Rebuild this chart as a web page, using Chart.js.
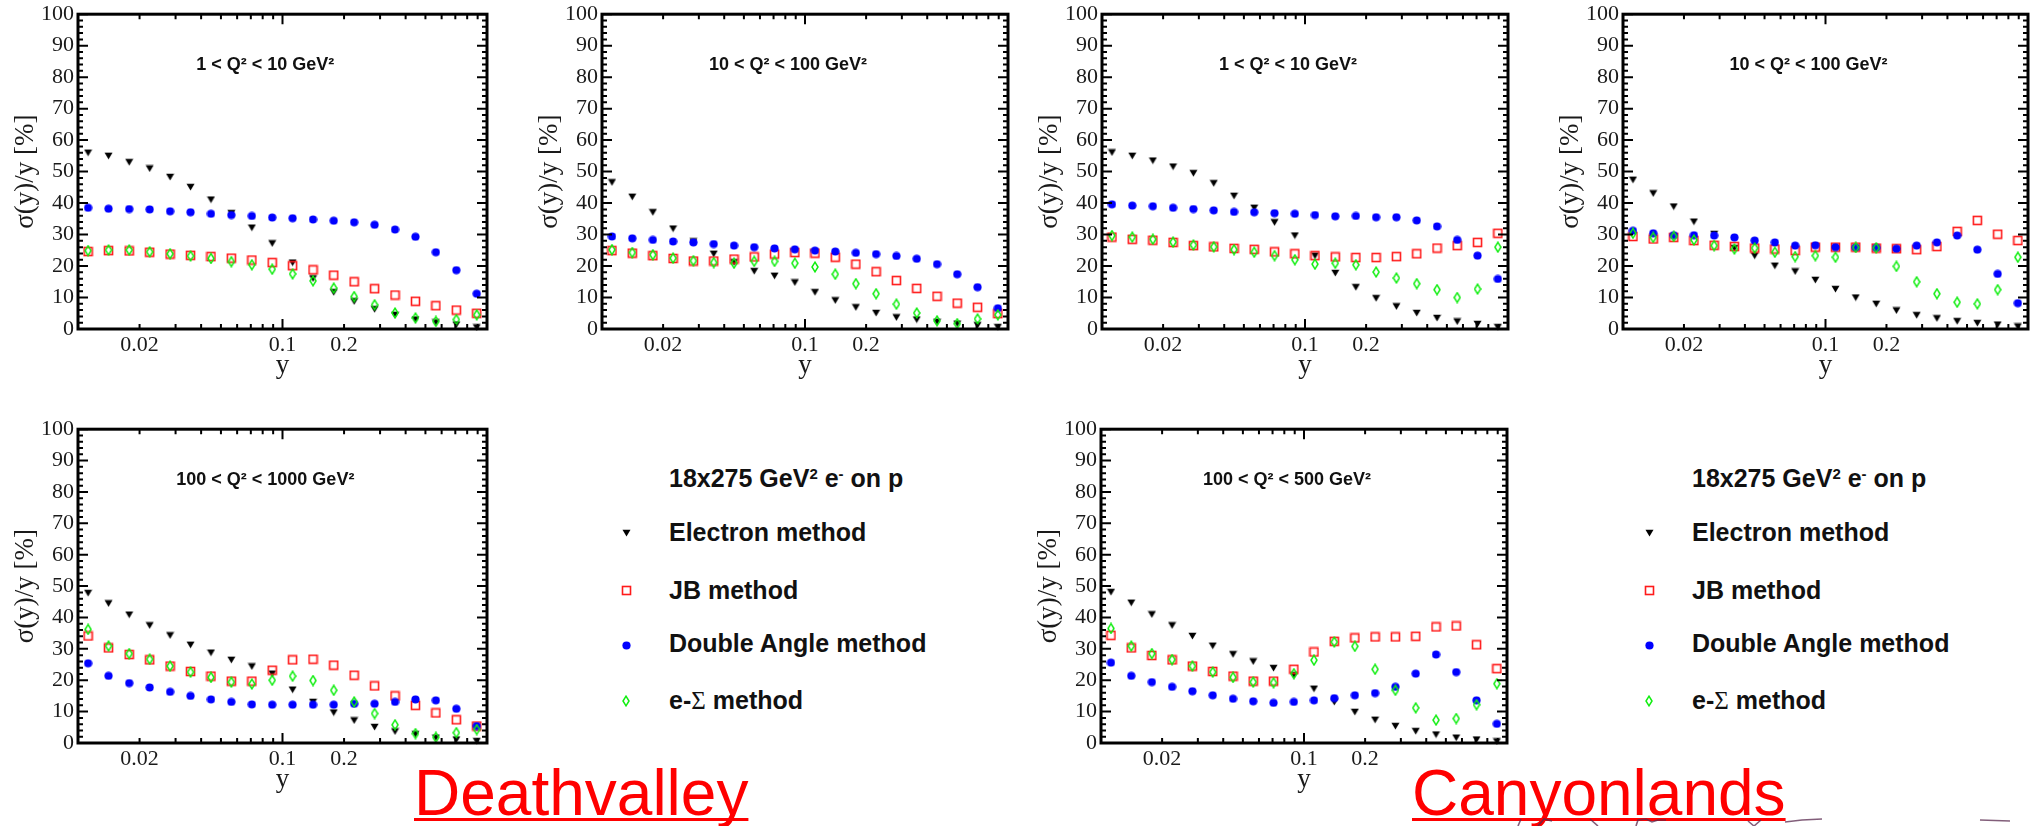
<!DOCTYPE html>
<html lang="en">
<head>
<meta charset="utf-8">
<title>σ(y)/y resolution — Deathvalley and Canyonlands</title>
<script src="https://cdn.jsdelivr.net/npm/chart.js@4.4.1/dist/chart.umd.min.js"></script>
<style>
  html, body { margin: 0; padding: 0; background: #fff; }
  body { position: relative; width: 2041px; height: 826px; overflow: hidden; }
  .panel { position: absolute; }
  .legend-title, .legend-entry {
    position: absolute; white-space: nowrap;
    font-family: "Liberation Sans", Arial, sans-serif; font-weight: bold;
    font-size: 25px; line-height: 25px; color: #111;
  }
  .legend-title sup { font-size: 15px; line-height: 0; vertical-align: baseline; position: relative; top: -0.55em; }
  .sigma { font-family: "Liberation Serif", "Times New Roman", serif; font-weight: normal; }
  .legend-marker { position: absolute; }
  .detector {
    position: absolute; white-space: nowrap;
    font-family: "Liberation Sans", Arial, sans-serif; font-size: 64px; line-height: 64px;
    color: #ff0000; text-decoration: underline; text-decoration-thickness: 3px;
    text-underline-offset: 3px; text-decoration-skip-ink: none;
  }
  #edge { position: absolute; left: 1480px; top: 810px; }
</style>
</head>
<body>

<div class="legend-title" style="left:669px; top:466px">18x275 GeV<sup>2</sup> e<sup>-</sup> on p</div>
<div class="legend-entry" style="left:669px; top:520px">Electron method</div>
<div class="legend-entry" style="left:669px; top:578px">JB method</div>
<div class="legend-entry" style="left:669px; top:631px">Double Angle method</div>
<div class="legend-entry" style="left:669px; top:688px">e-<span class="sigma">Σ</span> method</div>

<div class="legend-title" style="left:1692px; top:466px">18x275 GeV<sup>2</sup> e<sup>-</sup> on p</div>
<div class="legend-entry" style="left:1692px; top:520px">Electron method</div>
<div class="legend-entry" style="left:1692px; top:578px">JB method</div>
<div class="legend-entry" style="left:1692px; top:631px">Double Angle method</div>
<div class="legend-entry" style="left:1692px; top:688px">e-<span class="sigma">Σ</span> method</div>

<div class="detector" style="left:414px; top:761px">Deathvalley</div>
<div class="detector" style="left:1412px; top:761px">Canyonlands</div>

<canvas id="edge" width="561" height="16"></canvas>

<script>
// ---- y bin centres (10 bins per decade) ----
const yBins = [0.0112, 0.0141, 0.0178, 0.0224, 0.0282, 0.0355, 0.0447, 0.0562, 0.0708, 0.0891,
               0.112, 0.141, 0.178, 0.224, 0.282, 0.355, 0.447, 0.562, 0.708, 0.891];

// ---- axis ticks and labels ----
const xTickValues = [0.01, 0.02, 0.03, 0.04, 0.05, 0.06, 0.07, 0.08, 0.09,
                     0.1, 0.2, 0.3, 0.4, 0.5, 0.6, 0.7, 0.8, 0.9, 1];
const xMajorTicks = [0.01, 0.1, 1];
const xTickLabels = [0.02, 0.1, 0.2];
const yTickValues = [0, 10, 20, 30, 40, 50, 60, 70, 80, 90, 100];
const yMinorStep = 2;

const seriesNames = ['Electron method', 'JB method', 'Double Angle method', 'e-Σ method'];

// ---- Deathvalley, σ(y)/y in % ----
const dvQ2_1_10_electron = [56.0, 55.0, 53.0, 51.0, 48.3, 45.1, 41.1, 36.8, 32.2, 27.2, 21.1, 16.1, 11.7, 8.8, 6.3, 4.5, 3.0, 2.1, 1.4, 0.5];
const dvQ2_1_10_jb       = [24.6, 24.9, 24.8, 24.4, 23.8, 23.4, 23.0, 22.5, 21.9, 21.1, 20.1, 18.8, 17.1, 15.0, 12.8, 10.8, 8.8, 7.4, 6.0, 5.0];
const dvQ2_1_10_da       = [38.5, 38.2, 38.1, 38.0, 37.4, 37.1, 36.6, 36.2, 35.9, 35.4, 35.2, 34.8, 34.4, 33.9, 33.1, 31.6, 29.3, 24.4, 18.7, 11.2];
const dvQ2_1_10_esigma   = [24.9, 25.1, 25.1, 24.5, 23.9, 23.2, 22.4, 21.4, 20.4, 19.0, 17.5, 15.3, 13.0, 10.3, 7.7, 5.1, 3.5, 2.4, 3.0, 4.5];

const dvQ2_10_100_electron = [46.6, 42.0, 37.1, 31.9, 27.8, 23.9, 21.2, 18.4, 16.9, 14.8, 11.7, 9.1, 6.9, 5.1, 3.7, 3.0, 2.3, 1.7, 1.2, 0.6];
const dvQ2_10_100_jb       = [24.9, 24.1, 23.3, 22.4, 21.6, 21.6, 22.2, 22.9, 23.8, 24.3, 24.1, 22.8, 20.6, 18.2, 15.4, 12.9, 10.4, 8.2, 6.9, 4.9];
const dvQ2_10_100_da       = [29.4, 28.8, 28.3, 27.8, 27.5, 27.0, 26.5, 26.0, 25.6, 25.3, 24.9, 24.6, 24.2, 23.8, 23.2, 22.3, 20.6, 17.4, 13.3, 6.6];
const dvQ2_10_100_esigma   = [25.2, 24.3, 23.6, 22.5, 21.7, 21.1, 20.9, 21.5, 21.5, 20.9, 19.7, 17.4, 14.4, 11.2, 7.9, 5.1, 2.6, 1.7, 3.2, 4.5];

const dvQ2_100_1000_electron = [47.8, 44.5, 40.9, 37.5, 34.3, 31.3, 28.8, 26.5, 24.4, 22.1, 17.0, 13.1, 9.7, 7.2, 5.1, 3.7, 2.8, 1.7, 1.1, 0.6];
const dvQ2_100_1000_jb       = [34.1, 30.3, 28.2, 26.5, 24.5, 22.8, 21.3, 19.7, 19.7, 23.2, 26.5, 26.7, 24.8, 21.6, 18.2, 15.0, 12.0, 9.6, 7.4, 5.4];
const dvQ2_100_1000_da       = [25.4, 21.4, 19.1, 17.7, 16.3, 15.0, 13.9, 13.1, 12.3, 12.2, 12.2, 12.2, 12.2, 12.5, 12.5, 13.1, 13.9, 13.6, 10.9, 5.4];
const dvQ2_100_1000_esigma   = [36.2, 30.9, 28.5, 26.7, 24.5, 22.6, 20.9, 19.4, 18.8, 20.0, 21.3, 19.9, 16.8, 13.1, 9.4, 5.8, 3.0, 1.8, 3.3, 4.3];

// ---- Canyonlands, σ(y)/y in % ----
const clQ2_1_10_electron = [56.1, 55.0, 53.5, 51.6, 49.5, 46.3, 42.3, 38.5, 33.9, 29.7, 23.3, 17.8, 13.3, 9.8, 7.2, 5.1, 3.5, 2.4, 1.6, 0.6];
const clQ2_1_10_jb       = [29.2, 28.5, 28.2, 27.5, 26.5, 26.1, 25.6, 25.3, 24.5, 23.9, 23.3, 22.9, 22.7, 22.7, 23.0, 23.9, 25.7, 26.5, 27.5, 30.4];
const clQ2_1_10_da       = [39.6, 39.2, 39.0, 38.5, 38.1, 37.7, 37.2, 37.1, 36.8, 36.6, 36.2, 35.8, 35.9, 35.5, 35.5, 34.5, 32.6, 28.3, 23.3, 15.9];
const clQ2_1_10_esigma   = [29.7, 29.2, 28.5, 27.6, 26.7, 26.1, 25.2, 24.4, 23.3, 22.0, 20.6, 20.9, 20.4, 18.1, 16.2, 14.4, 12.5, 10.0, 12.7, 26.0];

const clQ2_10_100_electron = [47.4, 43.1, 38.9, 34.1, 30.2, 25.7, 23.3, 20.1, 18.3, 15.6, 12.7, 10.0, 8.0, 5.9, 4.4, 3.4, 2.5, 1.9, 1.4, 0.8];
const clQ2_10_100_jb       = [29.4, 28.6, 29.1, 28.1, 26.6, 26.2, 25.7, 25.4, 24.9, 26.0, 26.0, 26.0, 25.7, 25.5, 25.2, 26.2, 31.0, 34.5, 30.1, 28.1];
const clQ2_10_100_da       = [31.2, 30.4, 29.8, 29.8, 29.7, 29.1, 28.1, 27.5, 26.5, 26.6, 26.0, 25.9, 25.8, 25.5, 26.5, 27.5, 29.7, 25.2, 17.5, 8.2];
const clQ2_10_100_esigma   = [30.4, 29.1, 29.4, 28.3, 26.5, 25.4, 25.7, 24.4, 23.0, 23.3, 22.8, 25.9, 25.8, 19.9, 15.0, 11.2, 8.5, 8.0, 12.5, 22.8];

const clQ2_100_500_electron = [48.1, 44.7, 41.0, 37.5, 34.1, 31.0, 28.3, 26.0, 23.9, 21.6, 17.3, 13.1, 9.9, 7.4, 5.4, 3.8, 2.7, 1.7, 1.1, 0.5];
const clQ2_100_500_jb       = [34.3, 30.3, 27.9, 26.5, 24.5, 22.8, 21.3, 19.7, 19.7, 23.5, 29.0, 32.4, 33.5, 33.8, 33.8, 34.0, 37.0, 37.3, 31.3, 23.7];
const clQ2_100_500_da       = [25.6, 21.4, 19.4, 17.9, 16.5, 15.2, 14.1, 13.3, 12.8, 13.1, 13.6, 14.3, 15.2, 15.9, 17.9, 22.1, 28.2, 22.6, 13.6, 6.1];
const clQ2_100_500_esigma   = [36.5, 30.9, 28.5, 26.6, 24.5, 22.6, 20.9, 19.4, 19.2, 22.1, 26.4, 32.2, 30.8, 23.5, 16.8, 11.2, 7.3, 7.8, 12.2, 18.9];

// ---- marker glyphs (ROOT-like: full triangle down, open square, full circle, open diamond) ----
function markerCanvas(kind) {
  const c = document.createElement('canvas');
  const g = c.getContext('2d');
  if (kind === 'triangleDown') {
    c.width = 9; c.height = 8;
    g.fillStyle = '#000';
    g.beginPath(); g.moveTo(0.5, 0.8); g.lineTo(8.5, 0.8); g.lineTo(4.5, 7.6); g.closePath(); g.fill();
  } else if (kind === 'openSquare') {
    c.width = 11; c.height = 11;
    g.strokeStyle = '#ff1a1a'; g.lineWidth = 1.6;
    g.strokeRect(1.5, 1.5, 8, 8);
  } else if (kind === 'fullCircle') {
    c.width = 9; c.height = 9;
    g.fillStyle = '#0000ff';
    g.beginPath(); g.arc(4.5, 4.5, 4.1, 0, Math.PI * 2); g.fill();
  } else if (kind === 'openDiamond') {
    c.width = 8; c.height = 12;
    g.strokeStyle = '#10ee10'; g.lineWidth = 1.5;
    g.beginPath(); g.moveTo(4, 1.2); g.lineTo(7, 6); g.lineTo(4, 10.8); g.lineTo(1, 6); g.closePath(); g.stroke();
  }
  return c;
}
const markerKinds = ['triangleDown', 'openSquare', 'fullCircle', 'openDiamond'];
const markers = markerKinds.map(markerCanvas);

// ---- frame, inward ticks on all four sides, and the Q² range label ----
const panelFrame = {
  id: 'panelFrame',
  afterDatasetsDraw(chart, args, opts) {
    const { ctx, chartArea: a, scales: { x, y } } = chart;
    ctx.save();
    ctx.strokeStyle = '#000';
    ctx.lineWidth = 2;
    ctx.beginPath();
    xTickValues.forEach(v => {
      const px = x.getPixelForValue(v);
      const len = xMajorTicks.includes(v) ? 10 : 5;
      ctx.moveTo(px, a.bottom); ctx.lineTo(px, a.bottom - len);
      ctx.moveTo(px, a.top); ctx.lineTo(px, a.top + len);
    });
    for (let v = y.min; v <= y.max; v += yMinorStep) {
      const py = y.getPixelForValue(v);
      const len = yTickValues.includes(v) ? 10 : 5;
      ctx.moveTo(a.left, py); ctx.lineTo(a.left + len, py);
      ctx.moveTo(a.right, py); ctx.lineTo(a.right - len, py);
    }
    ctx.stroke();
    ctx.lineWidth = 3;
    ctx.strokeRect(a.left, a.top, a.width, a.height);
    ctx.fillStyle = '#111';
    ctx.font = 'bold 18px "Liberation Sans", Arial, sans-serif';
    ctx.textAlign = 'center';
    ctx.textBaseline = 'alphabetic';
    ctx.fillText(opts.label, a.left + a.width * 0.458, a.top + 56);
    ctx.restore();
  }
};

const panels = [
  { label: '1 < Q² < 10 GeV²',     box: { left: 78,   top: 13,  right: 487,  bottom: 329 },
    series: [dvQ2_1_10_electron, dvQ2_1_10_jb, dvQ2_1_10_da, dvQ2_1_10_esigma] },
  { label: '10 < Q² < 100 GeV²',   box: { left: 602,  top: 13,  right: 1008, bottom: 329 },
    series: [dvQ2_10_100_electron, dvQ2_10_100_jb, dvQ2_10_100_da, dvQ2_10_100_esigma] },
  { label: '1 < Q² < 10 GeV²',     box: { left: 1102, top: 13,  right: 1508, bottom: 329 },
    series: [clQ2_1_10_electron, clQ2_1_10_jb, clQ2_1_10_da, clQ2_1_10_esigma] },
  { label: '10 < Q² < 100 GeV²',   box: { left: 1623, top: 13,  right: 2028, bottom: 329 },
    series: [clQ2_10_100_electron, clQ2_10_100_jb, clQ2_10_100_da, clQ2_10_100_esigma] },
  { label: '100 < Q² < 1000 GeV²', box: { left: 78,   top: 428, right: 487,  bottom: 743 },
    series: [dvQ2_100_1000_electron, dvQ2_100_1000_jb, dvQ2_100_1000_da, dvQ2_100_1000_esigma] },
  { label: '100 < Q² < 500 GeV²',  box: { left: 1101, top: 428, right: 1507, bottom: 743 },
    series: [clQ2_100_500_electron, clQ2_100_500_jb, clQ2_100_500_da, clQ2_100_500_esigma] }
];

const axisFont = { family: '"Liberation Serif", "Times New Roman", serif', size: 22, lineHeight: 1.2 };
const titleFont = { family: '"Liberation Serif", "Times New Roman", serif', size: 27, lineHeight: 1 };
const textColor = '#1a1a1a';

function makePanel(p) {
  const pad = { left: 78, top: 16, right: 12, bottom: 58 };
  const b = p.box;
  const w = b.right - b.left + pad.left + pad.right;
  const h = b.bottom - b.top + pad.top + pad.bottom;
  const cv = document.createElement('canvas');
  cv.className = 'panel';
  cv.width = w; cv.height = h;
  cv.style.width = w + 'px'; cv.style.height = h + 'px';
  cv.style.left = (b.left - pad.left) + 'px';
  cv.style.top = (b.top - pad.top) + 'px';
  document.body.appendChild(cv);

  new Chart(cv, {
    type: 'scatter',
    data: {
      datasets: p.series.map((vals, i) => ({
        label: seriesNames[i],
        data: yBins.map((yb, j) => ({ x: yb, y: vals[j] })),
        pointStyle: markers[i],
        pointRadius: 5,
        order: 4 - i,
        clip: false
      }))
    },
    options: {
      responsive: false,
      animation: false,
      events: [],
      layout: { autoPadding: false, padding: { left: 0, top: pad.top, right: pad.right, bottom: 0 } },
      plugins: {
        legend: { display: false },
        tooltip: { enabled: false },
        panelFrame: { label: p.label }
      },
      scales: {
        x: {
          type: 'logarithmic', position: 'bottom', min: 0.01, max: 1,
          afterBuildTicks: s => { s.ticks = xTickValues.map(v => ({ value: v })); },
          afterFit: s => { s.height = pad.bottom; },
          grid: { display: false, drawTicks: false },
          border: { display: false },
          ticks: {
            autoSkip: false, maxRotation: 0, minRotation: 0, padding: 3,
            color: textColor, font: axisFont,
            callback: v => xTickLabels.some(t => Math.abs(t - v) < 1e-9) ? String(v) : ''
          },
          title: { display: true, text: 'y', color: textColor, font: titleFont, padding: { top: 0, bottom: 8 } }
        },
        y: {
          type: 'linear', position: 'left', min: 0, max: 100,
          afterBuildTicks: s => { s.ticks = yTickValues.map(v => ({ value: v })); },
          afterFit: s => { s.width = pad.left; },
          grid: { display: false, drawTicks: false },
          border: { display: false },
          ticks: { padding: 4, color: textColor, font: axisFont },
          title: { display: true, text: 'σ(y)/y [%]', color: textColor, font: titleFont, padding: { top: 12, bottom: 0 } }
        }
      }
    },
    plugins: [panelFrame]
  });
}
panels.forEach(makePanel);

// ---- legend markers ----
const legendMarkerRows = [533, 590, 645, 701];
const legendMarkerColumns = [626, 1649];
legendMarkerColumns.forEach(cx => {
  markerKinds.forEach((kind, i) => {
    const m = markerCanvas(kind);
    m.className = 'legend-marker';
    m.style.left = (cx - m.width / 2) + 'px';
    m.style.top = (legendMarkerRows[i] - m.height / 2) + 'px';
    document.body.appendChild(m);
  });
});

// ---- strokes of the next figure peeking in along the bottom edge ----
(function () {
  const g = document.getElementById('edge').getContext('2d');
  g.strokeStyle = 'rgba(88,40,78,0.75)';
  g.lineWidth = 1.6;
  const strokes = [
    [[38, 16], [41, 9]], [[58, 16], [64, 9], [72, 11]], [[110, 9], [118, 16]],
    [[156, 16], [158, 10], [166, 9], [172, 12], [178, 10], [186, 10]],
    [[268, 11], [274, 16], [281, 10]], [[305, 12], [322, 10], [342, 9]], [[500, 10], [530, 11]]
  ];
  strokes.forEach(s => {
    g.beginPath();
    s.forEach(([px, py], k) => k ? g.lineTo(px, py) : g.moveTo(px, py));
    g.stroke();
  });
})();
</script>
</body>
</html>
